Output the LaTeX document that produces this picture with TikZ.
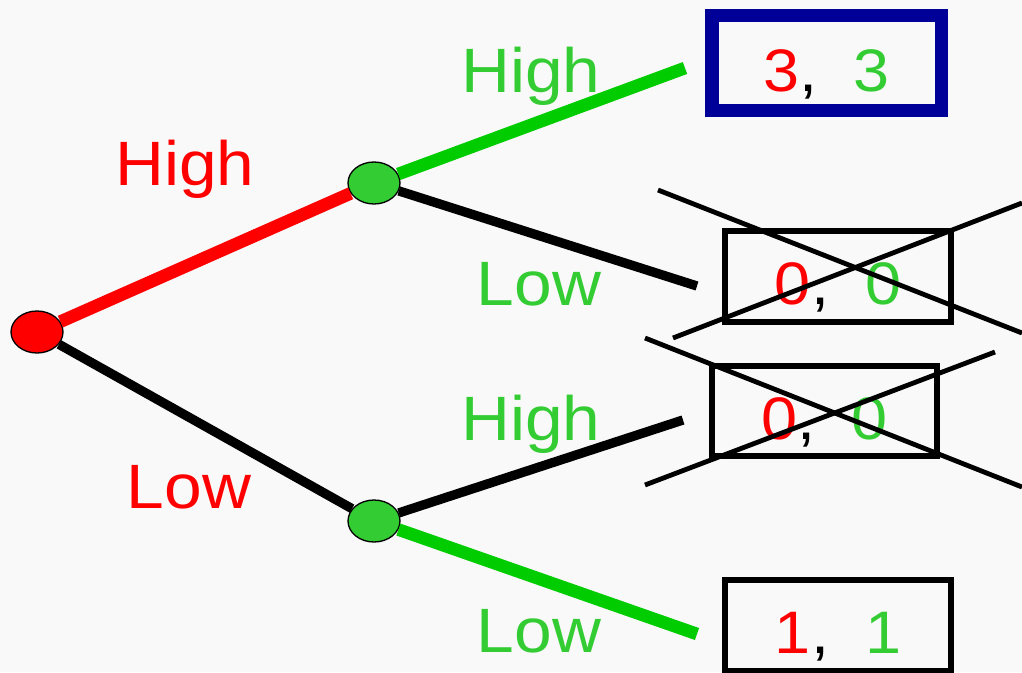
\documentclass[tikz,border=0pt]{standalone}
\usepackage{fontspec}
\setmainfont{Liberation Sans}[FakeStretch=1.08]
\usepackage{xcolor}
\usetikzlibrary{shapes.geometric,positioning}
\definecolor{bgcol}{RGB}{249,249,249}
\definecolor{edgegreen}{RGB}{0,204,0}
\definecolor{textgreen}{RGB}{51,204,51}
\definecolor{boxblue}{RGB}{0,0,153}
\newcommand{\payoff}[2]{\textcolor{red}{#1},\ \ \textcolor{textgreen}{#2}}

\begin{document}
\begin{tikzpicture}[
  x=0.75pt, y=-0.75pt,
  every node/.style={font=\fontsize{47}{52}\selectfont},
  mover/.style={
    ellipse,
    draw=black,
    line width=1pt,
    minimum width=39pt,
    minimum height=31.5pt,
    inner sep=0pt
  },
  outcome/.style={
    rectangle,
    draw=black,
    line width=4.3pt,
    minimum width=169pt,
    minimum height=68pt,
    font=\fontsize{45}{50}\selectfont,
    text height=42.5pt,
    text depth=0pt,
    inner sep=0pt
  },
  chosen/.style={outcome, draw=boxblue, line width=10pt, minimum width=172pt, minimum height=71pt},
  move/.style={line width=7pt, draw=black},
  play/.style={line width=9.5pt},
  strike/.style={line width=3.6pt, draw=black},
  lbl/.style={anchor=base}
]

% Background
\useasboundingbox[fill=bgcol] (0,0) rectangle (1022,672);

% Decision nodes
\node[mover, fill=red] (root) at (37,332) {};
\node[mover, fill=textgreen] (hi) at (374,183) {};
\node[mover, fill=textgreen] (lo) at (374,521) {};

% Outcomes
\node[chosen] (hh) at (826.5,63) {\payoff{3}{3}};
\node[outcome] (hl) at (838,276.5) {\payoff{0}{0}};
\node[outcome] (lh) at (824.5,411) {\payoff{0}{0}};
\node[outcome] (ll) at (838,625.5) {\payoff{1}{1}};

% Branch ends
\coordinate (hhend) at (685,68);
\coordinate (hlend) at (697,286);
\coordinate (lhend) at (683,420);
\coordinate (llend) at (697,634);

% Branches
\draw[play, red] (root) -- (hi);
\draw[move] (root) -- (lo);
\draw[play, edgegreen] (hi) -- (hhend);
\draw[move] (hi) -- (hlend);
\draw[move] (lo) -- (lhend);
\draw[play, edgegreen] (lo) -- (llend);

% Labels
\node[lbl, red] (l1) at (185,185) {High};
\node[lbl, red] (l2) at (189,508) {Low};
\node[lbl, textgreen] (l3) at (531,92) {High};
\node[lbl, textgreen] (l4) at (539,305) {Low};
\node[lbl, textgreen] (l5) at (531,440) {High};
\node[lbl, textgreen] (l6) at (539,652) {Low};

% Crossed out outcomes
\coordinate (a1) at (658,190);
\coordinate (a2) at (1022,333);
\coordinate (b1) at (673,338);
\coordinate (b2) at (1022,203);
\coordinate (c1) at (645,338);
\coordinate (c2) at (1022,487);
\coordinate (d1) at (645,485);
\coordinate (d2) at (995,352);
\draw[strike] (a1) -- (a2);
\draw[strike] (b1) -- (b2);
\draw[strike] (c1) -- (c2);
\draw[strike] (d1) -- (d2);

\end{tikzpicture}
\end{document}
